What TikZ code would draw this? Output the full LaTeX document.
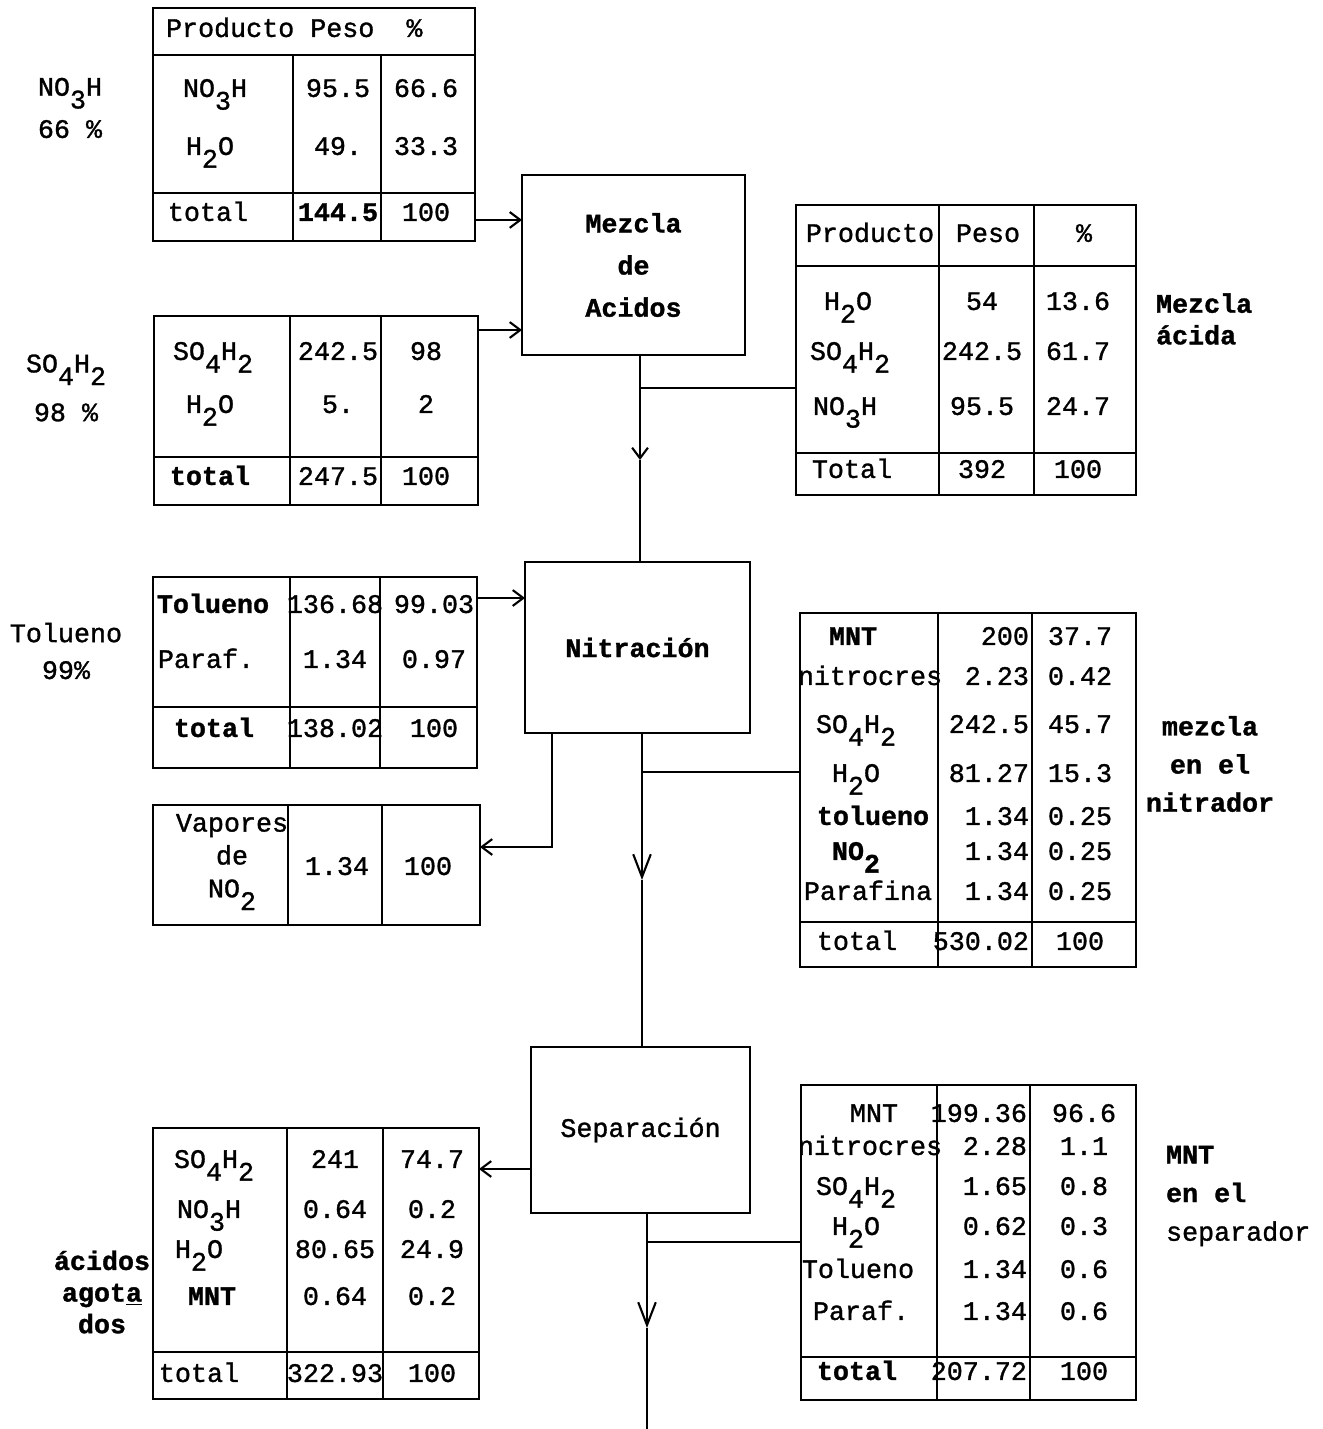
\documentclass[tikz,border=0pt]{standalone}
\usepackage{fontspec}
\usetikzlibrary{arrows.meta,calc}
\newfontfamily\maq{Liberation Mono}[FakeBold=1.2]
\newcommand{\baja}[1]{\raisebox{-0.9ex}{#1}}
\newcommand{\letra}[1]{\maq\fontsize{15.2}{#1}\selectfont}

\begin{document}
\begin{tikzpicture}[x=0.02cm,y=-0.02cm,line width=1.2pt,font=\letra{19},
    celda/.style={inner sep=0pt,text height=1.3ex,text depth=0pt},
    tabla/.style={draw,inner sep=0pt,outer sep=0pt,anchor=north west},
    proceso/.style={draw,inner sep=0pt,outer sep=0pt,align=center,font=\letra{24}\bfseries},
    rotulo/.style={inner sep=0pt,font=\letra{#1}},
    flecha/.style={-{Straight Barb[length=6pt,width=9pt]}},
    flechav/.style={-{Straight Barb[length=13pt,width=10pt]}}]
\useasboundingbox (0,0) rectangle (1322,1429);

% acido nitrico
\node[tabla,minimum width=6.44cm,minimum height=4.66cm] (t1) at (153,8) {};
\draw (153,55) -- (475,55) (153,193) -- (475,193) (293,55) -- (293,241) (381,55) -- (381,241);
\node[celda,anchor=west] (t1h) at (165,32) {Producto Peso\ \ \%};
\foreach \y/\xa/\a/\b/\c [count=\i] in {92/215/{NO\baja{3}H}/95.5/66.6,150/210/{H\baja{2}O}/49./33.3,216/208/total/\textbf{144.5}/100}{
  \node[celda] (t1a\i) at (\xa,\y) {\a};
  \node[celda] (t1b\i) at (338,\y) {\b};
  \node[celda] (t1c\i) at (426,\y) {\c};
}
\node[rotulo=24,align=center] (lno) at (70,108) {NO\baja{3}H\\66 \%};

% acido sulfurico
\node[tabla,minimum width=6.48cm,minimum height=3.78cm] (t2) at (154,316) {};
\draw (154,457) -- (478,457) (290,316) -- (290,505) (381,316) -- (381,505);
\foreach \y/\xa/\a/\b/\c [count=\i] in {355/213/{SO\baja{4}H\baja{2}}/242.5/98,408/210/{H\baja{2}O}/5./2,480/210/\textbf{total}/247.5/100}{
  \node[celda] (t2a\i) at (\xa,\y) {\a};
  \node[celda] (t2b\i) at (338,\y) {\b};
  \node[celda] (t2c\i) at (426,\y) {\c};
}
\node[rotulo=27.8,align=center] (lso) at (66,388) {SO\baja{4}H\baja{2}\\98 \%};

% mezcla acida
\node[tabla,minimum width=6.8cm,minimum height=5.8cm] (t3) at (796,205) {};
\draw (796,266) -- (1136,266) (796,453) -- (1136,453) (939,205) -- (939,495) (1034,205) -- (1034,495);
\node[celda] (t3h1) at (870,237) {Producto};
\node[celda] (t3h2) at (988,237) {Peso};
\node[celda] (t3h3) at (1084,237) {\%};
\foreach \y/\xa/\a/\b/\c [count=\i] in {305/848/{H\baja{2}O}/54/13.6,355/850/{SO\baja{4}H\baja{2}}/242.5/61.7,410/845/{NO\baja{3}H}/95.5/24.7,473/852/Total/392/100}{
  \node[celda] (t3a\i) at (\xa,\y) {\a};
  \node[celda] (t3b\i) at (982,\y) {\b};
  \node[celda] (t3c\i) at (1078,\y) {\c};
}
\node[rotulo=18,align=left,anchor=west] (lmez) at (1155,319) {\textbf{Mezcla}\\\textbf{ácida}};

% tolueno
\node[tabla,minimum width=6.48cm,minimum height=3.82cm] (t4) at (153,577) {};
\draw (153,707) -- (477,707) (290,577) -- (290,768) (380,577) -- (380,768);
\foreach \y/\xa/\a/\b/\c [count=\i] in {608/213/\textbf{Tolueno}/136.68/99.03,663/206/Paraf./1.34/0.97,732/214/\textbf{total}/138.02/100}{
  \node[celda] (t4a\i) at (\xa,\y) {\a};
  \node[celda] (t4b\i) at (335,\y) {\b};
  \node[celda] (t4c\i) at (434,\y) {\c};
}
\node[rotulo=21,align=center] (ltol) at (66,651) {Tolueno\\99\%};

% vapores
\node[tabla,minimum width=6.54cm,minimum height=2.4cm] (t5) at (153,805) {};
\draw (288,805) -- (288,925) (382,805) -- (382,925);
\node[rotulo=18.7,align=center] (t5a) at (232,862) {Vapores\\de\\NO\baja{2}};
\node[celda] (t5b) at (337,870) {1.34};
\node[celda] (t5c) at (428,870) {100};

% mezcla en el nitrador
\node[tabla,minimum width=6.72cm,minimum height=7.08cm] (t6) at (800,613) {};
\draw (800,922) -- (1136,922) (938,613) -- (938,967) (1032,613) -- (1032,967);
\foreach \y/\xa/\a/\b/\c [count=\i] in {640/853/\textbf{MNT}/200/37.7,680/870/nitrocres/2.23/0.42,728/856/{SO\baja{4}H\baja{2}}/242.5/45.7,777/856/{H\baja{2}O}/81.27/15.3,820/873/\textbf{tolueno}/1.34/0.25,855/856/{\textbf{NO\baja{2}}}/1.34/0.25,895/868/Parafina/1.34/0.25,945/857/total/530.02/100}{
  \node[celda] (t6a\i) at (\xa,\y) {\a};
  \node[celda,anchor=east] (t6b\i) at (1030,\y) {\b};
  \node[celda] (t6c\i) at (1080,\y) {\c};
}
\node[rotulo=21.7,align=center] (lnitr) at (1210,764) {\textbf{mezcla}\\\textbf{en el}\\\textbf{nitrador}};

% acidos agotados
\node[tabla,minimum width=6.52cm,minimum height=5.42cm] (t7) at (153,1128) {};
\draw (153,1352) -- (479,1352) (287,1128) -- (287,1399) (383,1128) -- (383,1399);
\foreach \y/\xa/\a/\b/\c [count=\i] in {1163/214/{SO\baja{4}H\baja{2}}/241/74.7,1213/209/{NO\baja{3}H}/0.64/0.2,1253/199/{H\baja{2}O}/80.65/24.9,1300/212/\textbf{MNT}/0.64/0.2,1377/199/total/322.93/100}{
  \node[celda] (t7a\i) at (\xa,\y) {\a};
  \node[celda] (t7b\i) at (335,\y) {\b};
  \node[celda] (t7c\i) at (432,\y) {\c};
}
\node[rotulo=18,align=center] (lago) at (102,1292) {\textbf{ácidos}\\\textbf{agot\underline{a}}\\\textbf{dos}};

% MNT en el separador
\node[tabla,minimum width=6.7cm,minimum height=6.3cm] (t8) at (801,1085) {};
\draw (801,1357) -- (1136,1357) (937,1085) -- (937,1400) (1030,1085) -- (1030,1400);
\foreach \y/\xa/\a/\b/\c [count=\i] in {1117/874/MNT/199.36/96.6,1150/870/nitrocres/2.28/1.1,1190/856/{SO\baja{4}H\baja{2}}/1.65/0.8,1230/856/{H\baja{2}O}/0.62/0.3,1273/858/Tolueno/1.34/0.6,1315/861/Paraf./1.34/0.6,1375/857/\textbf{total}/207.72/100}{
  \node[celda] (t8a\i) at (\xa,\y) {\a};
  \node[celda,anchor=east] (t8b\i) at (1028,\y) {\b};
  \node[celda] (t8c\i) at (1084,\y) {\c};
}
\node[rotulo=22,align=left,anchor=west] (lsepa) at (1165,1196) {\textbf{MNT}\\\textbf{en el}\\separador};

% procesos
\node[proceso,minimum width=4.46cm,minimum height=3.6cm] (mez) at (633.5,265) {Mezcla\\de\\Acidos};
\node[proceso,minimum width=4.5cm,minimum height=3.42cm] (nit) at (637.5,647.5) {Nitración};
\node[proceso,minimum width=4.38cm,minimum height=3.32cm,font=\letra{24}] (sep) at (640.5,1130) {Separación};

% corrientes
\draw[flecha] (t1.south east) ++(0,-21) coordinate (a1) -- (a1 -| mez.west);
\draw[flecha] (t2.north east) ++(0,14) coordinate (a2) -- (a2 -| mez.west);
\coordinate (j1) at (640,388);
\coordinate (h1) at (640,460);
\draw (mez.south -| j1) -- (j1) -- (j1 -| t3.west);
\draw[flecha] (j1) -- (h1);
\draw (h1) -- (h1 |- nit.north);
\draw[flecha] (t4.north east) ++(0,21) coordinate (a4) -- (a4 -| nit.west);
\coordinate (b5) at (552,847);
\draw[flecha] (nit.south -| b5) -- (b5) -- (b5 -| t5.east);
\coordinate (j2) at (642,772);
\coordinate (h2) at (642,880);
\draw (nit.south -| j2) -- (j2) -- (j2 -| t6.west);
\draw[flechav] (j2) -- (h2);
\draw (h2) -- (h2 |- sep.north);
\draw[flecha] (sep.west) ++(0,39) coordinate (a7) -- (a7 -| t7.east);
\coordinate (j3) at (647,1242);
\coordinate (h3) at (647,1328);
\coordinate (fin) at (647,1429);
\draw (sep.south -| j3) -- (j3) -- (j3 -| t8.west);
\draw[flechav] (j3) -- (h3);
\draw (h3) -- (fin);
\end{tikzpicture}
\end{document}
